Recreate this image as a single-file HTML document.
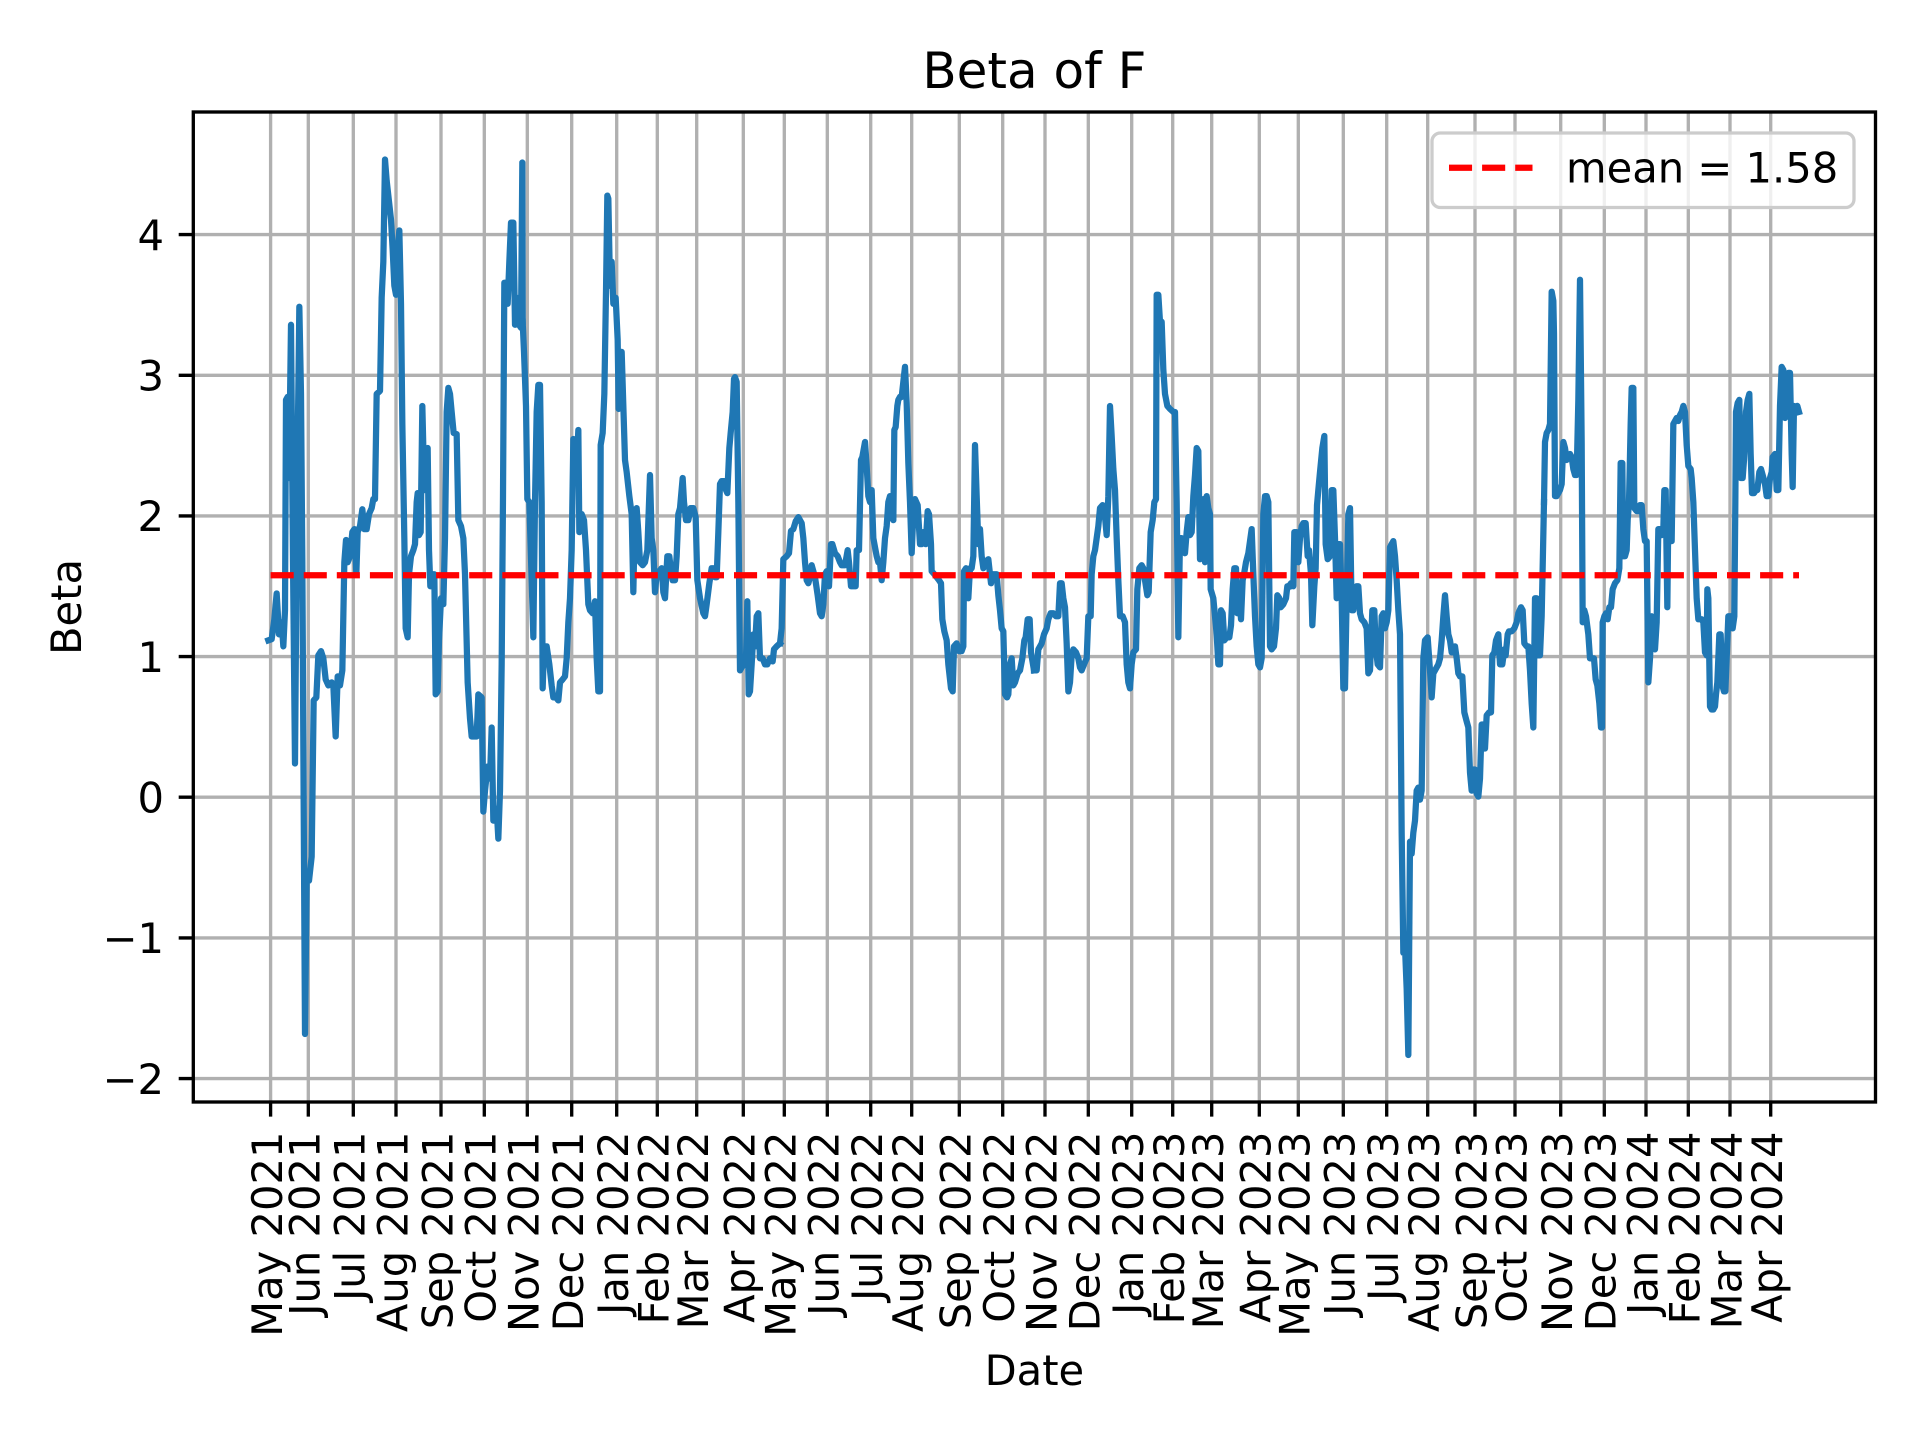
<!DOCTYPE html>
<html>
<head>
<meta charset="utf-8">
<style>
html,body{margin:0;padding:0;background:#fff;}
svg{display:block;}
text{font-family:"DejaVu Sans","Liberation Sans",sans-serif;fill:#000;}
</style>
</head>
<body>
<svg width="1920" height="1440" viewBox="0 0 1920 1440" xmlns="http://www.w3.org/2000/svg">
<rect x="0" y="0" width="1920" height="1440" fill="#fff"/>

<!-- grid -->
<g stroke="#b0b0b0" stroke-width="3.33" fill="none">
<path d="M270.6 112V1102M308.3 112V1102M353.3 112V1102M396 112V1102M441 112V1102M484.3 112V1102M527.3 112V1102M571.7 112V1102M616.7 112V1102M657.3 112V1102M696.7 112V1102M743.3 112V1102M784.3 112V1102M827.3 112V1102M870.7 112V1102M911.7 112V1102M959.3 112V1102M1002.7 112V1102M1045 112V1102M1088.3 112V1102M1131.7 112V1102M1172.7 112V1102M1211.7 112V1102M1259.3 112V1102M1298.3 112V1102M1343.3 112V1102M1386.7 112V1102M1427.7 112V1102M1475 112V1102M1515 112V1102M1560.7 112V1102M1604.3 112V1102M1646 112V1102M1688.3 112V1102M1730 112V1102M1770.7 112V1102"/>
<path d="M193.3 234.6H1875.5M193.3 375.3H1875.5M193.3 515.9H1875.5M193.3 656.6H1875.5M193.3 797.2H1875.5M193.3 937.9H1875.5M193.3 1078.6H1875.5"/>
</g>

<!-- data -->
<g fill="none" stroke="#1f77b4" stroke-width="6.25" stroke-linejoin="round" stroke-linecap="square">
<g transform="translate(265,141.5) scale(0.333333,0.601)">
<polyline vector-effect="non-scaling-stroke" points="10,830 20,828 28,795 35,752 42,820 50,800 55,840 60,780 63,430 68,425 72,560 78,305 84,700 90,1035 96,600 103,275 108,420 112,700 116,1100 120,1485 125,1230 132,1230 140,1190 146,930 154,925 160,855 168,848 175,860 182,895 190,905 200,900 205,905 212,990 218,890 225,905 232,880 238,700 243,663 248,700 255,690 262,650 268,645 274,720 278,650 285,640 292,612 298,645 305,645 312,620 320,610 325,595 330,595 335,420 345,415 350,260 355,200 360,30 365,65 372,100 378,130 383,180 388,240 393,255 398,180 403,148 408,270 412,470 418,660 422,810 428,825 432,720 438,690 445,680 450,670 455,600 458,585 462,655 467,650 472,440 478,580 483,560 488,510 492,680 496,740 502,720 508,720 512,920 518,915 522,830 528,760 535,770 540,660 545,450 550,410 555,420 560,450 566,485 575,487 580,630 588,640 595,660 600,720 608,900 615,960 620,990 628,990 635,990 640,920 650,925 655,1115 660,1080 668,1040 675,1060 680,975 685,1130 690,1130 695,1110 700,1160 705,1080 710,870 714,590 718,235 725,235 728,270 733,200 738,135 745,135 750,305 755,260 762,305 768,310 772,35 773,300"/>
</g>
<g transform="translate(520,141.5) scale(0.333333,0.601)">
<polyline vector-effect="non-scaling-stroke" points="8,300 12,350 18,440 22,595 28,600 35,730 40,825 45,600 50,450 55,405 60,405 65,600 68,910 72,840 80,840 88,870 95,905 100,925 108,925 115,930 120,900 128,895 135,890 140,860 145,800 150,760 155,680 160,495 165,520 170,540 175,480 178,650 185,620 192,630 198,680 205,770 210,780 218,785 225,765 230,860 235,915 240,915 242,505 248,485 253,420 258,250 262,90 265,95 270,240 275,200 280,270 287,260 293,330 296,445 300,350 305,350 310,440 315,530 320,550 328,590 335,620 340,750 345,615 350,610 355,650 360,700 368,705 375,700 382,680 390,555 395,660 400,680 405,750 410,720 418,715 425,710 430,750 435,760 442,690 448,690 452,710 458,730 465,730 470,690 475,620 480,610 488,560 492,600 498,630 505,630 512,610 520,610 527,625 532,730 540,760 550,785 555,790 560,770 568,735 575,710 580,710 585,725 590,725 595,650 600,570 605,565 612,565 618,580 622,585 628,510 632,485 638,450 642,395 645,392 650,400 655,600 660,880 665,875 672,870 678,860 682,765 686,920 690,915 695,870 700,820 705,840 710,790 715,785 720,860 728,860 735,870 742,870 750,860 758,865 762,845 770,840 780,835"/>
</g>
<g transform="translate(775,141.5) scale(0.333333,0.601)">
<polyline vector-effect="non-scaling-stroke" points="15,835 20,810 25,695 35,690 42,685 48,648 55,645 62,632 70,625 80,635 85,660 90,700 95,730 100,735 105,725 110,705 115,715 120,725 128,755 135,785 140,790 145,770 150,720 155,715 162,740 168,670 172,670 180,685 188,690 195,700 200,705 210,705 218,680 222,700 228,740 235,740 242,740 245,680 252,680 258,530 262,525 270,500 275,540 280,590 285,600 290,580 295,660 300,675 305,690 310,700 315,700 320,730 325,700 330,660 335,640 340,600 345,590 350,625 355,630 358,480 362,475 367,440 370,430 375,425 380,425 385,400 390,375 395,435 400,535 405,600 410,685 415,620 420,595 428,605 435,670 440,670 445,650 452,670 458,615 462,620 468,670 470,715 478,720 485,725 492,730 498,735 502,795 508,815 515,830 520,870 528,910 533,915 537,840 545,835 552,848 560,848 565,840 567,715 573,710 580,760 585,710 590,710 595,690 600,505 605,590 610,670 615,645 620,690 625,710 630,700 640,695 648,735 652,720 660,720 665,720 670,755 675,780 680,810 685,815 690,920 696,925 700,920 705,870 710,860 715,905 720,900 728,885 735,880 742,860 748,830 752,825 758,795 764,795 768,850 777,880"/>
</g>
<g transform="translate(1030,141.5) scale(0.333333,0.601)">
<polyline vector-effect="non-scaling-stroke" points="12,880 20,880 25,845 35,835 42,820 50,810 55,795 62,785 70,785 78,790 85,790 90,735 95,735 100,760 105,775 110,835 115,915 120,900 125,855 130,845 138,850 145,860 150,875 155,880 162,870 170,860 175,790 182,790 185,720 190,690 195,680 200,660 205,640 210,610 218,605 225,625 230,655 235,590 240,440 245,490 250,545 255,580 260,660 265,730 270,790 278,790 285,800 290,870 295,900 300,910 305,870 310,850 318,845 322,745 328,710 335,705 340,710 345,730 352,755 356,750 362,650 368,630 373,600 378,595 380,255 385,255 390,300 395,300 400,380 405,420 412,440 420,445 430,450 435,450 440,600 445,825 450,660 455,660 460,680 465,685 470,650 475,625 480,655 485,650 490,590 495,555 500,510 505,515 510,695 515,635 520,595 525,700 530,590 535,610 540,620 542,745 550,760 555,790 560,820 565,870 570,870 573,780 578,785 583,830 590,825 598,825 603,805 608,745 613,710 618,710 622,785 628,750 633,795 638,730 642,720 648,700 655,685 660,665 665,645 670,720 675,790 680,840 685,870 690,875 695,860 700,620 705,590 710,590 715,600 720,840 725,845 732,840 738,810 742,755 748,760 752,775 760,770 768,760 772,740 777,740"/>
</g>
<g transform="translate(1285,141.5) scale(0.333333,0.601)">
<polyline vector-effect="non-scaling-stroke" points="12,740 18,735 25,740 28,650 35,650 40,700 45,660 50,640 55,635 62,635 68,690 72,680 78,720 82,805 88,740 92,710 96,605 100,580 105,550 112,510 118,490 122,670 128,695 135,690 140,580 145,580 150,660 155,760 160,670 165,670 170,760 175,910 180,910 185,760 190,620 195,610 200,780 205,780 210,750 215,740 220,740 225,785 230,795 238,800 245,810 250,885 255,880 262,780 268,780 272,840 278,870 285,875 290,790 295,785 300,810 305,800 310,780 315,675 320,670 325,665 330,690 335,730 340,780 345,820 350,1150 355,1350 360,1340 365,1410 370,1520 375,1165 380,1185 385,1150 390,1130 395,1080 400,1075 405,1095 410,1080 415,860 420,830 428,825 435,880 440,925 445,885 450,880 455,875 460,870 465,860 470,830 475,790 480,755 485,790 490,820 495,830 500,850 505,850 510,840 515,860 520,885 525,890 532,890 538,950 545,965 550,975 555,1050 560,1080 565,1045 570,1045 575,1085 580,1090 585,1060 590,970 595,970 600,1010 605,955 612,950 618,950 622,855 628,850 633,830 640,820 645,870 652,870 658,845 662,855 668,820 672,815 680,815 688,810 695,800 700,785 708,775 713,780 718,835 725,840 730,840 735,880 740,935 745,975 750,760 755,760 760,855 765,855 770,790 777,600"/>
</g>
<g transform="translate(1540,141.5) scale(0.333333,0.601)">
<polyline vector-effect="non-scaling-stroke" points="12,600 15,500 20,485 25,480 30,470 35,250 40,265 42,320 45,590 50,590 55,585 60,580 65,570 70,500 75,510 80,530 85,525 90,520 95,525 100,545 105,555 110,555 115,430 120,230 125,500 128,800 133,780 138,790 145,820 150,860 155,860 162,860 167,895 172,905 178,935 183,975 186,975 188,800 193,790 198,785 203,795 208,775 213,775 218,745 225,735 232,730 238,710 242,535 247,535 250,690 255,690 260,680 263,630 267,600 272,470 275,410 280,410 283,610 290,615 295,615 300,605 305,605 310,645 315,665 320,665 325,900 330,860 335,790 340,840 345,845 350,800 355,645 360,645 365,655 370,645 373,580 377,580 382,775 385,620 390,665 395,665 400,470 405,465 410,460 415,465 420,455 425,450 430,440 435,450 440,505 445,540 452,545 455,560 460,600 465,680 470,760 475,795 480,795 485,795 490,800 495,850 500,855 502,745 505,760 510,940 515,945 520,945 525,940 528,920 532,900 538,820 542,820 547,905 552,915 556,915 560,860 565,790 572,790 578,810 583,790 586,600 588,450 593,435 598,430 602,560 608,560 612,530 618,450 623,430 628,420 632,520 636,585 642,585 648,580 652,580 658,550 663,545 668,555 675,570 680,590 685,590 690,560 695,550 698,525 705,520 710,580 715,580 720,440 725,375 730,380 735,460 740,455 745,385 750,385 755,520 758,575 762,440 767,445 772,440 777,450"/>
</g>
</g>

<!-- mean line -->
<line x1="270.6" y1="575.2" x2="1799" y2="575.2" stroke="#ff0000" stroke-width="6.25" stroke-dasharray="23.1 10"/>

<!-- spines -->
<rect x="193.3" y="112" width="1682.2" height="990" fill="none" stroke="#000" stroke-width="3.33"/>

<!-- y ticks -->
<g stroke="#000" stroke-width="3.33">
<path d="M178.7 234.6H193.3M178.7 375.3H193.3M178.7 515.9H193.3M178.7 656.6H193.3M178.7 797.2H193.3M178.7 937.9H193.3M178.7 1078.6H193.3"/>
<path d="M270.6 1102V1116.6M308.3 1102V1116.6M353.3 1102V1116.6M396 1102V1116.6M441 1102V1116.6M484.3 1102V1116.6M527.3 1102V1116.6M571.7 1102V1116.6M616.7 1102V1116.6M657.3 1102V1116.6M696.7 1102V1116.6M743.3 1102V1116.6M784.3 1102V1116.6M827.3 1102V1116.6M870.7 1102V1116.6M911.7 1102V1116.6M959.3 1102V1116.6M1002.7 1102V1116.6M1045 1102V1116.6M1088.3 1102V1116.6M1131.7 1102V1116.6M1172.7 1102V1116.6M1211.7 1102V1116.6M1259.3 1102V1116.6M1298.3 1102V1116.6M1343.3 1102V1116.6M1386.7 1102V1116.6M1427.7 1102V1116.6M1475 1102V1116.6M1515 1102V1116.6M1560.7 1102V1116.6M1604.3 1102V1116.6M1646 1102V1116.6M1688.3 1102V1116.6M1730 1102V1116.6M1770.7 1102V1116.6"/>
</g>

<!-- y tick labels -->
<g font-size="41.67" text-anchor="end">
<text x="164" y="249.9">4</text>
<text x="164" y="390.6">3</text>
<text x="164" y="531.2">2</text>
<text x="164" y="671.9">1</text>
<text x="164" y="812.5">0</text>
<text x="164" y="953.2">−1</text>
<text x="164" y="1093.9">−2</text>
</g>

<!-- x tick labels -->
<g font-size="41.67" text-anchor="end">
<text transform="translate(281.9,1131.5) rotate(-90)">May 2021</text>
<text transform="translate(319.6,1131.5) rotate(-90)">Jun 2021</text>
<text transform="translate(364.6,1131.5) rotate(-90)">Jul 2021</text>
<text transform="translate(407.3,1131.5) rotate(-90)">Aug 2021</text>
<text transform="translate(452.3,1131.5) rotate(-90)">Sep 2021</text>
<text transform="translate(495.6,1131.5) rotate(-90)">Oct 2021</text>
<text transform="translate(538.6,1131.5) rotate(-90)">Nov 2021</text>
<text transform="translate(583,1131.5) rotate(-90)">Dec 2021</text>
<text transform="translate(628,1131.5) rotate(-90)">Jan 2022</text>
<text transform="translate(668.6,1131.5) rotate(-90)">Feb 2022</text>
<text transform="translate(708,1131.5) rotate(-90)">Mar 2022</text>
<text transform="translate(754.6,1131.5) rotate(-90)">Apr 2022</text>
<text transform="translate(795.6,1131.5) rotate(-90)">May 2022</text>
<text transform="translate(838.6,1131.5) rotate(-90)">Jun 2022</text>
<text transform="translate(882,1131.5) rotate(-90)">Jul 2022</text>
<text transform="translate(923,1131.5) rotate(-90)">Aug 2022</text>
<text transform="translate(970.6,1131.5) rotate(-90)">Sep 2022</text>
<text transform="translate(1014,1131.5) rotate(-90)">Oct 2022</text>
<text transform="translate(1056.3,1131.5) rotate(-90)">Nov 2022</text>
<text transform="translate(1099.6,1131.5) rotate(-90)">Dec 2022</text>
<text transform="translate(1143,1131.5) rotate(-90)">Jan 2023</text>
<text transform="translate(1184,1131.5) rotate(-90)">Feb 2023</text>
<text transform="translate(1223,1131.5) rotate(-90)">Mar 2023</text>
<text transform="translate(1270.6,1131.5) rotate(-90)">Apr 2023</text>
<text transform="translate(1309.6,1131.5) rotate(-90)">May 2023</text>
<text transform="translate(1354.6,1131.5) rotate(-90)">Jun 2023</text>
<text transform="translate(1398,1131.5) rotate(-90)">Jul 2023</text>
<text transform="translate(1439,1131.5) rotate(-90)">Aug 2023</text>
<text transform="translate(1486.3,1131.5) rotate(-90)">Sep 2023</text>
<text transform="translate(1526.3,1131.5) rotate(-90)">Oct 2023</text>
<text transform="translate(1572,1131.5) rotate(-90)">Nov 2023</text>
<text transform="translate(1615.6,1131.5) rotate(-90)">Dec 2023</text>
<text transform="translate(1657.3,1131.5) rotate(-90)">Jan 2024</text>
<text transform="translate(1699.6,1131.5) rotate(-90)">Feb 2024</text>
<text transform="translate(1741.3,1131.5) rotate(-90)">Mar 2024</text>
<text transform="translate(1782,1131.5) rotate(-90)">Apr 2024</text>
</g>

<!-- axis labels and title -->
<text x="1034.4" y="1385" font-size="41.67" text-anchor="middle">Date</text>
<text transform="translate(81,607) rotate(-90)" font-size="41.67" text-anchor="middle">Beta</text>
<text x="1034.4" y="88" font-size="50" text-anchor="middle">Beta of F</text>

<!-- legend -->
<rect x="1432" y="133" width="422" height="74.5" rx="8.3" ry="8.3" fill="rgba(255,255,255,0.8)" stroke="#cccccc" stroke-width="3.3"/>
<line x1="1449" y1="167.7" x2="1532.5" y2="167.7" stroke="#ff0000" stroke-width="6.25" stroke-dasharray="23.1 10"/>
<text x="1566" y="182.5" font-size="41.67">mean = 1.58</text>
</svg>
</body>
</html>
